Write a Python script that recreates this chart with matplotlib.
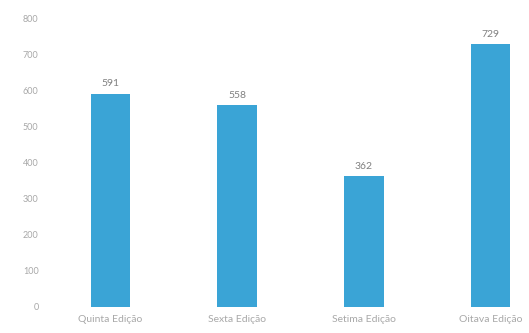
import matplotlib
matplotlib.use("Agg")
import matplotlib.pyplot as plt

# edições e número de participantes
edicoes = ["Quinta Edição", "Sexta Edição", "Setima Edição", "Oitava Edição"]
valores = [591, 558, 362, 729]
yticks = [0, 100, 200, 300, 400, 500, 600, 700, 800]

plt.rcParams["font.family"] = ["Lato", "DejaVu Sans"]

fig = plt.figure(figsize=(5.29, 3.33), dpi=100)
ax = fig.add_axes([47 / 529, 26 / 333, 507 / 529, 289 / 333])

x = range(len(edicoes))
bars = ax.bar(x, valores, width=0.31, color="#3aa4d6")

for b, v in zip(bars, valores):
    ax.text(b.get_x() + b.get_width() / 2, v + 14, str(v),
            ha="center", va="bottom", fontsize=7.5, color="#808080")

ax.set_xlim(-0.5, 3.5)
ax.set_ylim(0, 800)
ax.set_yticks(yticks)
ax.set_xticks(list(x))
ax.set_xticklabels(edicoes)
ax.tick_params(axis="both", length=0, labelcolor="#a8a8a8")
ax.tick_params(axis="y", pad=6, labelsize=6.5)
ax.tick_params(axis="x", pad=6, labelsize=7.5)
for s in ax.spines.values():
    s.set_visible(False)

fig.savefig("out.png", dpi=100)
